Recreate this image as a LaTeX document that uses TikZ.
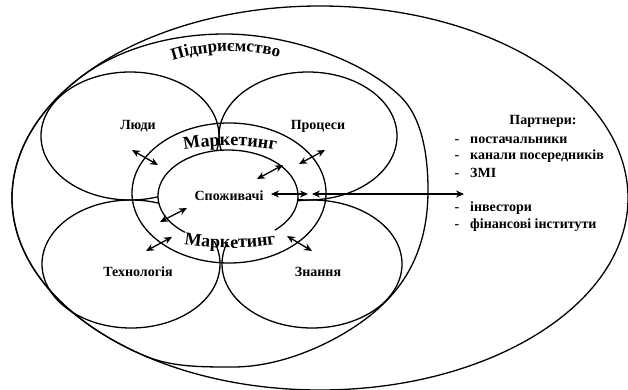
\documentclass[tikz,border=0pt]{standalone}
\usepackage{fontspec}
\setmainfont{Liberation Serif}
\usetikzlibrary{arrows.meta,decorations.text}
\begin{document}
\begin{tikzpicture}[x=1pt,y=-1pt,
  shapeline/.style={line width=1.3pt},
  lbl/.style={font=\bfseries\fontsize{14}{16}\selectfont, inner sep=0pt},
  ptext/.style={font=\bfseries\fontsize{14}{16}\selectfont, inner sep=0pt, anchor=base west},
  pdash/.style={font=\bfseries\fontsize{14}{16}\selectfont, inner sep=0pt, anchor=base},
  dbl/.style={line width=1.3pt, {Stealth[length=8pt,width=7pt]}-{Stealth[length=8pt,width=7pt]}},
]
\useasboundingbox (0,0) rectangle (628,390);
\fill[white] (0,0) rectangle (628,390);

% environment ellipse
\draw[shapeline] (320,198) ellipse [x radius=308, y radius=192];
% enterprise contour (left side follows the environment ellipse)
\draw[shapeline] (76.3,80.6) .. controls (115.2,49.2) and (170,34) .. (225,34)
  .. controls (285,34) and (360,58) .. (400,96)
  .. controls (422,117) and (428,155) .. (428,190)
  .. controls (428,235) and (415,275) .. (380,307)
  .. controls (350,335) and (290,367) .. (233,367)
  .. controls (200,367) and (170.3,367.1) .. (142.8,355)
  -- plot[domain=125.1:217.7, samples=60, smooth] ({320+308*cos(\x)},{198+192*sin(\x)})
  -- cycle;

% petals
\draw[shapeline] (308,136) ellipse [x radius=89, y radius=64];
\draw[shapeline] (130,136) ellipse [x radius=89, y radius=64];
\draw[shapeline] (131,264) ellipse [x radius=89, y radius=64];
\draw[shapeline] (312,264) ellipse [x radius=90, y radius=64];

% marketing ring
\draw[shapeline] (229,193) ellipse [x radius=97, y radius=70];
% consumers
\fill[white] (228,196) ellipse [x radius=70, y radius=46];
\draw[shapeline] plot[domain=128:408, samples=120, smooth] ({228+70*cos(\x)}, {196+46*sin(\x)});

% curved texts
\path[decorate, decoration={text along path, text align=center,
  text={|\bfseries\fontsize{17}{19}\selectfont|Підприємство}}]
  (163,64) .. controls (200,49) and (250,47) .. (289,60);
\path[decorate, decoration={text along path, text align=center,
  text={|\bfseries\fontsize{18}{20}\selectfont|Маркетинг}}]
  (160,157) .. controls (200,142) and (260,142) .. (300,157);
\path[decorate, decoration={text along path, text align=center,
  text={|\bfseries\fontsize{18}{20}\selectfont|Маркетинг}}]
  (160,239) .. controls (200,251) and (260,251) .. (300,239);

% labels
\node[lbl] (lyudy) at (138,126) {Люди};
\node[lbl] (protsesy) at (318,126) {Процеси};
\node[lbl] (spozh) at (229,196) {Споживачі};
\node[lbl] (tekh) at (138,272) {Технологія};
\node[lbl] (znannya) at (318,272) {Знання};

% partners
\node[lbl, anchor=base] (partn) at (543,125) {Партнери:};
\node[pdash] (d1) at (457,143) {-};
\node[ptext] (p1) at (470,143) {постачальники};
\node[pdash] (d2) at (457,160) {-};
\node[ptext] (p2) at (470,160) {канали посередників};
\node[pdash] (d3) at (457,177) {-};
\node[ptext] (p3) at (470,177) {ЗМІ};
\node[pdash] (d4) at (457,211) {-};
\node[ptext] (p4) at (470,211) {інвестори};
\node[pdash] (d5) at (457,228) {-};
\node[ptext] (p5) at (470,228) {фінансові інститути};

% arrow end points
\coordinate (h1a) at (271,194); \coordinate (h1b) at (308,194);
\coordinate (h2a) at (312,194); \coordinate (h2b) at (464,194);
\coordinate (r1a) at (132,150); \coordinate (r1b) at (158,165);
\coordinate (r2a) at (325,150); \coordinate (r2b) at (299,164);
\coordinate (r3a) at (283,165); \coordinate (r3b) at (257,179);
\coordinate (r4a) at (160,222); \coordinate (r4b) at (187,208);
\coordinate (r5a) at (146,251); \coordinate (r5b) at (172,237);
\coordinate (r6a) at (287,236); \coordinate (r6b) at (312,251);

\draw[dbl] (h1a) -- (h1b);
\draw[dbl] (h2a) -- (h2b);
\draw[dbl] (r1a) -- (r1b);
\draw[dbl] (r2a) -- (r2b);
\draw[dbl] (r3a) -- (r3b);
\draw[dbl] (r4a) -- (r4b);
\draw[dbl] (r5a) -- (r5b);
\draw[dbl] (r6a) -- (r6b);
\end{tikzpicture}
\end{document}
